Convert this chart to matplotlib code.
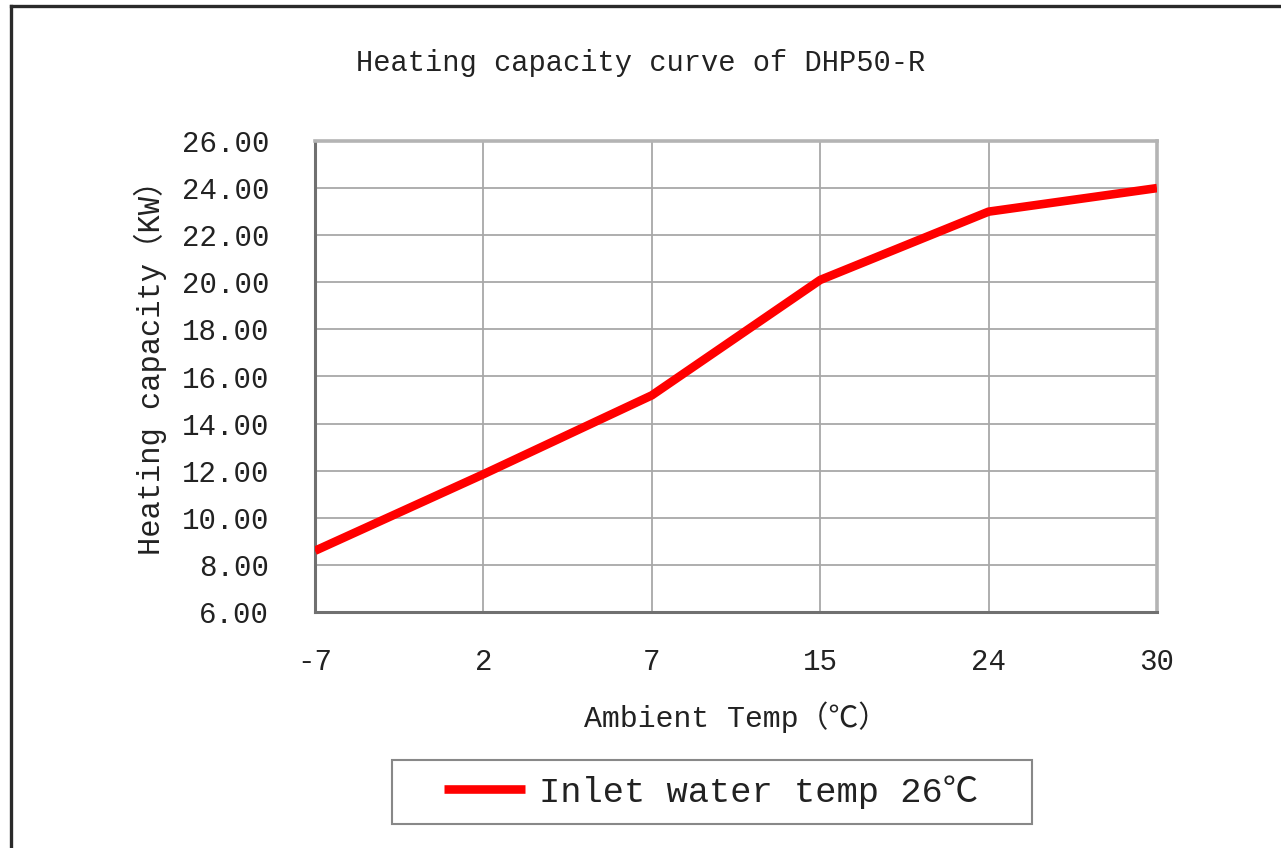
import matplotlib.pyplot as plt
from matplotlib.lines import Line2D
from matplotlib.patches import Rectangle

temps = ['-7', '2', '7', '15', '24', '30']
capacity = [8.6, 11.85, 15.2, 20.1, 23.0, 24.0]
yticks = [6, 8, 10, 12, 14, 16, 18, 20, 22, 24, 26]

fam = ['Liberation Mono', 'Noto Sans CJK SC', 'DejaVu Sans Mono']
plt.rcParams['font.family'] = fam

fig = plt.figure(figsize=(12.81, 8.48), dpi=100)
ax = fig.add_axes([315/1281, 1-612/848, 842/1281, 471/848])

x = list(range(len(temps)))
line, = ax.plot(x, capacity, color='#ff0000', linewidth=6.2,
                solid_capstyle='butt', solid_joinstyle='round',
                label='Inlet water temp 26℃', zorder=3)

ax.set_xlim(0, len(temps) - 1)
ax.set_ylim(6, 26)
ax.set_xticks(x)
ax.set_xticklabels(temps)
ax.set_yticks(yticks)
ax.set_yticklabels([f'{v:.2f}' for v in yticks])
ax.tick_params(axis='both', length=0, labelsize=21, colors='#222222')
ax.tick_params(axis='y', pad=33)
ax.tick_params(axis='x', pad=26)

ax.grid(True, color='#a8a8a8', linewidth=1.3)
ax.set_axisbelow(True)
for side in ['left', 'bottom']:
    ax.spines[side].set_color('#707070')
    ax.spines[side].set_linewidth(2.2)
for side in ['top', 'right']:
    ax.spines[side].set_color('#b4b4b4')
    ax.spines[side].set_linewidth(2.6)

ax.set_ylabel('Heating capacity（KW）', fontsize=22, color='#222222')
ax.yaxis.set_label_coords(-0.176, 0.535)
ax.set_xlabel('Ambient Temp（℃）', fontsize=21.5, color='#222222')
ax.xaxis.set_label_coords(0.5, -0.19)

fig.text(641/1281, 1-63/848, 'Heating capacity curve of DHP50-R',
         ha='center', va='center', fontsize=20.7, color='#222222')

leg = fig.legend(handles=[line], loc='center',
                 bbox_to_anchor=(711/1281, 1-792/848),
                 fontsize=25.5, frameon=False,
                 handlelength=2.3, handletextpad=0.4,
                 borderpad=0, borderaxespad=0)
for t in leg.get_texts():
    t.set_color('#222222')
fig.add_artist(Rectangle((392/1281, 1-824/848), 640/1281, 64/848,
                         transform=fig.transFigure, fill=False,
                         edgecolor='#888888', linewidth=1.5))

# outer frame (left and top edges)
fig.add_artist(Line2D([10.5/1281, 10.5/1281], [0, 1-5.5/848],
                      transform=fig.transFigure, color='#2a2a2a', linewidth=2.4))
fig.add_artist(Line2D([10.5/1281, 1], [1-5.5/848, 1-5.5/848],
                      transform=fig.transFigure, color='#2a2a2a', linewidth=2.4))

plt.savefig('out.png', dpi=100)
plt.close()
